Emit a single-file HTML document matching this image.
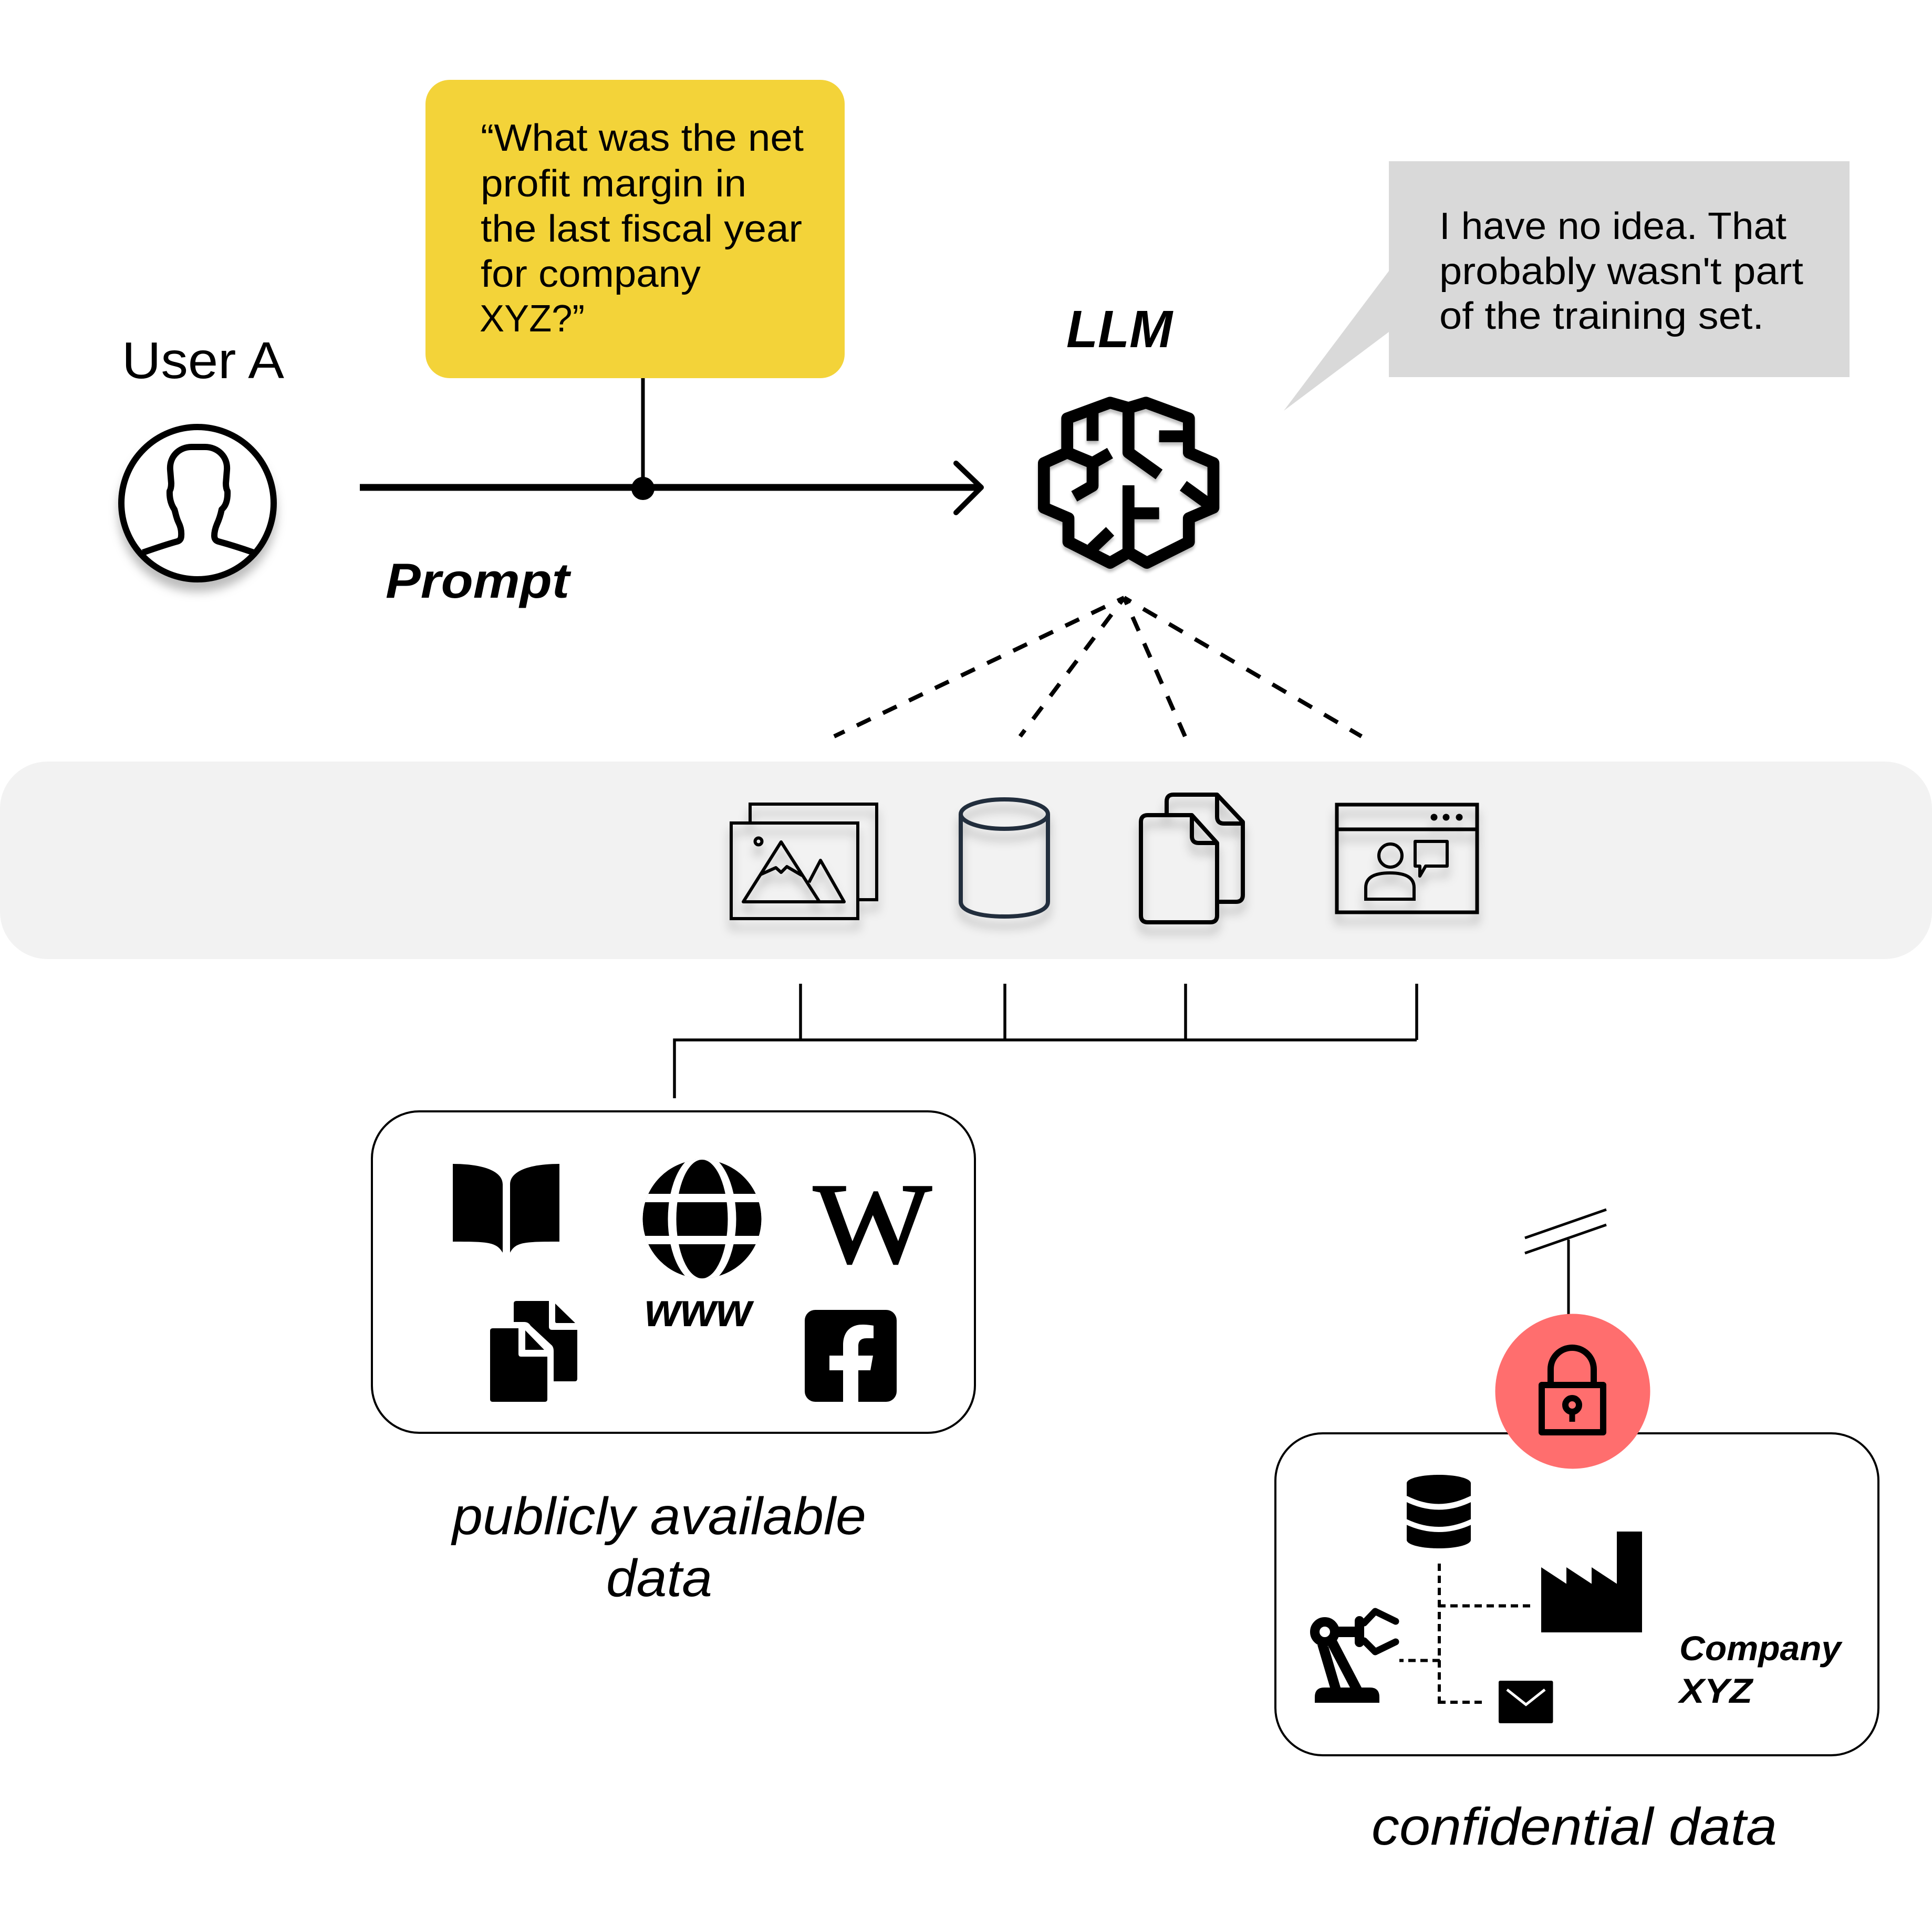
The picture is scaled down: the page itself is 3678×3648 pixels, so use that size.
<!DOCTYPE html>
<html>
<head>
<meta charset="utf-8">
<title>LLM diagram</title>
<style>
html,body{margin:0;padding:0;background:#fff;width:3678px;height:3648px;overflow:hidden}
svg{display:block}
text{font-family:"Liberation Sans",sans-serif;fill:#000}
.b{font-size:72px}
.bi{font-weight:bold;font-style:italic}
.i{font-style:italic;font-size:100px}
</style>
</head>
<body>
<svg xmlns="http://www.w3.org/2000/svg" width="3678" height="3648" viewBox="0 0 3678 3648">
<defs>
<filter id="sh" x="-30%" y="-30%" width="160%" height="170%">
<feDropShadow dx="0" dy="18" stdDeviation="9" flood-color="#000" flood-opacity="0.26"/>
</filter>
<clipPath id="uc"><circle cx="376" cy="958" r="146"/></clipPath>
</defs>

<!-- yellow prompt -->
<rect x="810" y="152" width="798" height="568" rx="46" fill="#f3d339"/>
<text class="b" x="915" y="287" textLength="615" lengthAdjust="spacingAndGlyphs">“What was the net</text>
<text class="b" x="915" y="374" textLength="506" lengthAdjust="spacingAndGlyphs">profit margin in</text>
<text class="b" x="915" y="460" textLength="612" lengthAdjust="spacingAndGlyphs">the last fiscal year</text>
<text class="b" x="915" y="546" textLength="419" lengthAdjust="spacingAndGlyphs">for company</text>
<text class="b" x="913" y="631" textLength="200" lengthAdjust="spacingAndGlyphs">XYZ?”</text>

<!-- gray bubble -->
<path d="M2644 307H3521V718H2644V632L2444 782L2644 516Z" fill="#d9d9d9"/>
<text class="b" x="2740" y="455" textLength="661" lengthAdjust="spacingAndGlyphs">I have no idea. That</text>
<text class="b" x="2740" y="541" textLength="693" lengthAdjust="spacingAndGlyphs">probably wasn't part</text>
<text class="b" x="2740" y="626" textLength="618" lengthAdjust="spacingAndGlyphs">of the training set.</text>

<!-- user -->
<text x="232" y="720" font-size="98" textLength="309" lengthAdjust="spacingAndGlyphs">User A</text>
<g filter="url(#sh)" fill="none" stroke="#000" stroke-width="12">
<circle cx="376" cy="958" r="145" fill="#fff"/>
<path clip-path="url(#uc)" stroke-linejoin="round" d="M272 1052C295 1044 315 1037 337 1031Q345 1029 345 1020Q346 1007 340 995C335 985 334 975 332 970Q322 955 323 935Q326 930 326 920L324 895C322 870 340 851 365 851H390C415 851 434 870 432 895L430 920Q430 930 433 935C434 955 428 965 422 970C420 980 418 987 413 998Q408 1010 408 1020Q408 1029 416 1031C438 1037 460 1044 483 1052"/>
</g>

<!-- prompt arrow -->
<line x1="685" y1="928" x2="1866" y2="928" stroke="#000" stroke-width="13"/>
<line x1="1224" y1="720" x2="1224" y2="930" stroke="#000" stroke-width="7"/>
<circle cx="1224" cy="930" r="22" fill="#000"/>
<path d="M1820 882L1868 928L1820 976" fill="none" stroke="#000" stroke-width="10" stroke-linecap="round" stroke-linejoin="round"/>
<text class="bi" x="734" y="1138" font-size="94" textLength="350" lengthAdjust="spacingAndGlyphs">Prompt</text>
<text class="bi" x="2030" y="661" font-size="100" textLength="202" lengthAdjust="spacingAndGlyphs">LLM</text>

<!-- brain -->
<g transform="translate(1950,740) scale(0.3333)" filter="url(#sh)">
<g fill="none" stroke="#000" stroke-width="68" stroke-linejoin="round">
<path d="M595 110L490 80L245 170V365L112 425V680L252 740V875L490 995L595 935L700 995L940 875V740L1080 680V425L940 365V170L695 80L595 110V365L770 490"/>
<path d="M390 130V298"/>
<path d="M770 272H940"/>
<path d="M245 365L390 425"/>
<path d="M490 368L390 425V555L285 615"/>
<path d="M908 555L1060 665"/>
<path d="M595 552V935"/>
<path d="M595 712H770"/>
<path d="M490 815L385 915"/>
</g>
</g>

<!-- dashed fan -->
<g stroke="#000" stroke-width="8" stroke-dasharray="29 26" stroke-dashoffset="15" fill="none">
<line x1="2140" y1="1138" x2="1588" y2="1402"/>
<line x1="2140" y1="1138" x2="1942" y2="1402"/>
<line x1="2140" y1="1138" x2="2256" y2="1402"/>
<line x1="2140" y1="1138" x2="2592" y2="1402" stroke-dasharray="30 27"/>
</g>

<!-- band -->
<rect x="0" y="1450" width="3678" height="376" rx="90" fill="#f2f2f2"/>

<!-- images icon -->
<g filter="url(#sh)" fill="none" stroke="#000" stroke-width="6">
<path d="M1428 1567V1531H1669V1713H1633"/>
<rect x="1392" y="1567" width="241" height="182"/>
<path stroke-linejoin="round" d="M1415 1717L1487 1603L1560 1717ZM1540 1680L1562 1638L1607 1717H1560"/>
<path stroke-linejoin="round" d="M1448 1665L1477 1652L1487 1661L1498 1650L1527 1667"/>
<circle cx="1444" cy="1602" r="6.5"/>
</g>

<!-- cylinder -->
<g filter="url(#sh)" fill="none" stroke="#232f3e" stroke-width="8">
<ellipse cx="1912" cy="1550" rx="83" ry="28"/>
<path d="M1829 1550V1717C1829 1735 1865 1745 1912 1745C1959 1745 1995 1735 1995 1717V1550"/>
</g>

<!-- documents -->
<g filter="url(#sh)" fill="none" stroke="#000" stroke-width="8" stroke-linejoin="round">
<path d="M2221 1552V1526Q2221 1513 2234 1513H2317L2366 1565V1704Q2366 1717 2353 1717H2317"/>
<path d="M2317 1513V1555Q2317 1568 2330 1568H2366"/>
<path d="M2269 1552H2185Q2172 1552 2172 1565V1743Q2172 1756 2185 1756H2304Q2317 1756 2317 1743V1605L2269 1552V1592Q2269 1605 2282 1605H2317"/>
</g>

<!-- web profile -->
<g filter="url(#sh)" fill="none" stroke="#000" stroke-width="7">
<rect x="2545" y="1532" width="267" height="205"/>
<line x1="2545" y1="1579" x2="2812" y2="1579"/>
<circle cx="2730" cy="1556" r="6.5" fill="#000" stroke="none"/>
<circle cx="2753" cy="1556" r="6.5" fill="#000" stroke="none"/>
<circle cx="2778" cy="1556" r="6.5" fill="#000" stroke="none"/>
<circle cx="2647" cy="1629" r="22" stroke-width="6"/>
<path stroke-width="6" d="M2600 1712V1690Q2600 1662 2646 1662Q2692 1662 2692 1690V1712Z"/>
<path stroke-width="6" stroke-linejoin="round" d="M2694 1602H2755V1649H2714L2703 1668V1649H2694Z"/>
</g>

<!-- bracket -->
<g fill="none" stroke="#000" stroke-width="5.5">
<path d="M1524 1873V1980M1913 1873V1980M2257 1873V1980M2697 1873V1980M2697 1980H1284V2091"/>
</g>

<!-- public box -->
<rect x="708" y="2116" width="1148" height="612" rx="90" fill="#fff" stroke="#000" stroke-width="4"/>
<!-- book -->
<path fill="#000" d="M862 2216C920 2216 957 2230 957 2255V2385C945 2365 930 2364 862 2364Z"/>
<path fill="#000" d="M1065 2216C1007 2216 971 2230 971 2255V2385C982 2365 997 2364 1065 2364Z"/>
<!-- globe -->
<clipPath id="gc"><circle cx="1336.5" cy="2321" r="113"/></clipPath>
<g clip-path="url(#gc)">
<circle cx="1336.5" cy="2321" r="113" fill="#000"/>
<ellipse cx="1336.5" cy="2321" rx="65" ry="125" fill="#fff"/>
<ellipse cx="1336.5" cy="2321" rx="49" ry="113" fill="#000"/>
<rect x="1220" y="2273" width="234" height="16" fill="#fff"/>
<rect x="1220" y="2353" width="234" height="16" fill="#fff"/>
</g>
<text class="bi" x="1227" y="2525" font-size="90" textLength="204" lengthAdjust="spacingAndGlyphs">www</text>
<!-- W -->
<text x="1549" y="2403" font-size="218" stroke="#000" stroke-width="4" textLength="224" lengthAdjust="spacingAndGlyphs" style="font-family:'Liberation Serif',serif">W</text>
<!-- black docs -->
<path fill="#000" d="M983 2477H1045V2526Q1045 2532 1051 2532H1099V2625Q1099 2630 1094 2630H1054V2572Q1054 2566 1051 2562L1010 2524Q1006 2517 998 2517H978V2482Q978 2477 983 2477Z"/>
<path fill="#000" d="M1057 2482L1095 2519H1060Q1057 2519 1057 2516Z"/>
<path fill="#000" d="M938 2529H987V2578Q987 2583 992 2583H1042V2664Q1042 2669 1037 2669H938Q933 2669 933 2664V2534Q933 2529 938 2529Z"/>
<path fill="#000" d="M1000 2533L1036 2570H1000Z"/>
<!-- facebook -->
<rect x="1532" y="2494" width="175" height="175" rx="20" fill="#000"/>
<path fill="#fff" d="M1605 2669V2609H1579V2581H1605V2561C1605 2535 1620 2522 1642 2522C1650 2522 1658 2523 1663 2524V2548H1650C1638 2548 1634 2554 1634 2563V2581H1662L1657 2609H1634V2669Z"/>

<text class="i" x="861" y="2921" textLength="788" lengthAdjust="spacingAndGlyphs">publicly available</text>
<text class="i" x="1154" y="3039" textLength="202" lengthAdjust="spacingAndGlyphs">data</text>

<!-- company box -->
<rect x="2428" y="2729" width="1148" height="613" rx="90" fill="#fff" stroke="#000" stroke-width="4"/>
<g stroke="#000" stroke-width="5" fill="none">
<line x1="2903" y1="2357" x2="3058" y2="2303"/>
<line x1="2903" y1="2386" x2="3058" y2="2332"/>
<line x1="2986" y1="2360" x2="2986" y2="2504"/>
</g>
<circle cx="2994" cy="2649" r="147.5" fill="#ff6e6e"/>
<!-- lock -->
<g fill="none" stroke="#000" stroke-width="12" stroke-linejoin="round">
<rect x="2935" y="2637" width="117" height="90"/>
<path d="M2952 2637V2607A41 41 0 0 1 3034 2607V2637"/>
<circle cx="2993" cy="2675" r="13"/>
<line x1="2993" y1="2688" x2="2993" y2="2707" stroke-width="11"/>
</g>
<!-- db -->
<path fill="#000" d="M2678 2824C2678 2815 2705 2808 2739 2808C2773 2808 2800 2815 2800 2824V2932C2800 2941 2773 2948 2739 2948C2705 2948 2678 2941 2678 2932Z"/>
<path fill="none" stroke="#fff" stroke-width="11" d="M2676 2853Q2739 2885 2802 2853"/>
<path fill="none" stroke="#fff" stroke-width="10" d="M2676 2897Q2739 2927 2802 2897"/>
<!-- factory -->
<path fill="#000" d="M2934 2984L2982 3015.5V2984L3030 3015.5V2984L3078 3015.5V2916H3126V3108H2934Z"/>
<!-- dashed -->
<g fill="none" stroke="#000" stroke-width="6" stroke-dasharray="14 9">
<line x1="2740" y1="2977" x2="2740" y2="3244"/>
<line x1="2738" y1="3057.5" x2="2916" y2="3057.5"/>
<line x1="2664" y1="3161.5" x2="2742" y2="3161.5" stroke-dashoffset="6"/>
<line x1="2738" y1="3241" x2="2826" y2="3241"/>
</g>
<!-- robot -->
<g fill="#000">
<path d="M2503 3242V3231Q2503 3213 2521 3213H2608Q2626 3213 2626 3231V3242Z"/>
<path d="M2508 3132L2532 3213H2552L2529 3135Z"/>
<path d="M2545 3123L2592 3213H2570L2529 3135L2530 3128Z"/>
<circle cx="2522" cy="3107" r="19" fill="none" stroke="#000" stroke-width="18"/>
<rect x="2545" y="3097" width="38" height="20"/>
<rect x="2579" y="3077" width="18" height="59" rx="9"/>
</g>
<g fill="none" stroke="#000" stroke-width="13" stroke-linecap="round" stroke-linejoin="round">
<path d="M2597 3090L2618 3068L2657 3087"/>
<path d="M2597 3124L2618 3145L2657 3126"/>
</g>
<!-- mail -->
<rect x="2853" y="3200" width="103.5" height="81" rx="3" fill="#000"/>
<path d="M2869 3217L2905 3245.5L2941 3217" fill="none" stroke="#fff" stroke-width="5"/>

<text class="bi" x="3197" y="3161" font-size="66" textLength="308" lengthAdjust="spacingAndGlyphs">Company</text>
<text class="bi" x="3197" y="3242" font-size="66" textLength="139" lengthAdjust="spacingAndGlyphs">XYZ</text>
<text class="i" x="2611" y="3512" textLength="772" lengthAdjust="spacingAndGlyphs">confidential data</text>
</svg>
</body>
</html>
